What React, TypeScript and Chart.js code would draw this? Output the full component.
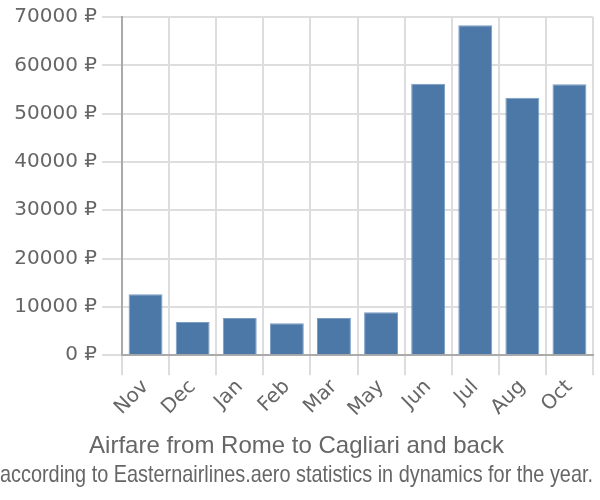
import React, { useEffect, useRef } from "react";
import { Chart, registerables } from "chart.js";

Chart.register(...registerables);

const categories = ["Nov", "Dec", "Jan", "Feb", "Mar", "May", "Jun", "Jul", "Aug", "Oct"];
const prices = [12600, 6850, 7700, 6600, 7700, 8900, 56200, 68300, 53300, 56100];
const yTicks = [0, 10000, 20000, 30000, 40000, 50000, 60000, 70000];
const titleText = "Airfare from Rome to Cagliari and back";
const subtitleText = "according to Easternairlines.aero statistics in dynamics for the year.";

const FONT = "'Liberation Sans', Arial, sans-serif";
const TICK_FONT = "'DejaVu Sans', sans-serif";

export default function App() {
  const ref = useRef<HTMLCanvasElement | null>(null);
  useEffect(() => {
    document.body.style.margin = "0";
    const ctx = ref.current!;
    const chart = new Chart(ctx, {
      type: "bar",
      data: {
        labels: categories,
        datasets: [
          {
            data: prices,
            backgroundColor: "#4c78a8",
            borderColor: "#7c9cc4",
            borderWidth: 1,
            categoryPercentage: 0.8,
            barPercentage: 0.9,
          },
        ],
      },
      options: {
        animation: false,
        responsive: true,
        maintainAspectRatio: false,
        layout: { padding: { top: 1, right: 7, left: 0, bottom: 0 } },
        plugins: {
          legend: { display: false },
          tooltip: { enabled: false },
          title: {
            display: true,
            position: "bottom",
            text: titleText,
            color: "#666",
            font: { family: FONT, size: 24, weight: "normal" },
            padding: { top: 11, bottom: 0 },
            weight: 1000,
          } as any,
          subtitle: {
            display: true,
            position: "bottom",
            text: subtitleText,
            color: "#666",
            font: { family: FONT, size: 24, weight: "normal" },
            padding: { top: 0, bottom: 10 },
            weight: 1500,
          } as any,
        },
        scales: {
          x: {
            grid: { color: "#dddddd", lineWidth: 2, tickLength: 20, offset: true },
            border: { color: "#aaaaaa", width: 2 },
            ticks: {
              color: "#666",
              font: { family: TICK_FONT, size: 20 },
              minRotation: 45,
              maxRotation: 45,
              padding: 0,
            },
          },
          y: {
            min: 0,
            max: 70000,
            afterBuildTicks: (axis: any) => {
              axis.ticks = yTicks.map((v) => ({ value: v }));
            },
            afterFit: (axis: any) => {
              axis.width = 122;
            },
            grid: { color: "#dddddd", lineWidth: 2, tickLength: 20 },
            border: { color: "#aaaaaa", width: 2 },
            ticks: {
              color: "#666",
              font: { family: TICK_FONT, size: 20 },
              padding: 5,
              callback: (v: any) => `${v} ₽`,
            },
          },
        },
      },
    });
    return () => chart.destroy();
  }, []);
  return (
    <div style={{ width: 600, height: 500, position: "relative" }}>
      <canvas ref={ref} />
    </div>
  );
}
